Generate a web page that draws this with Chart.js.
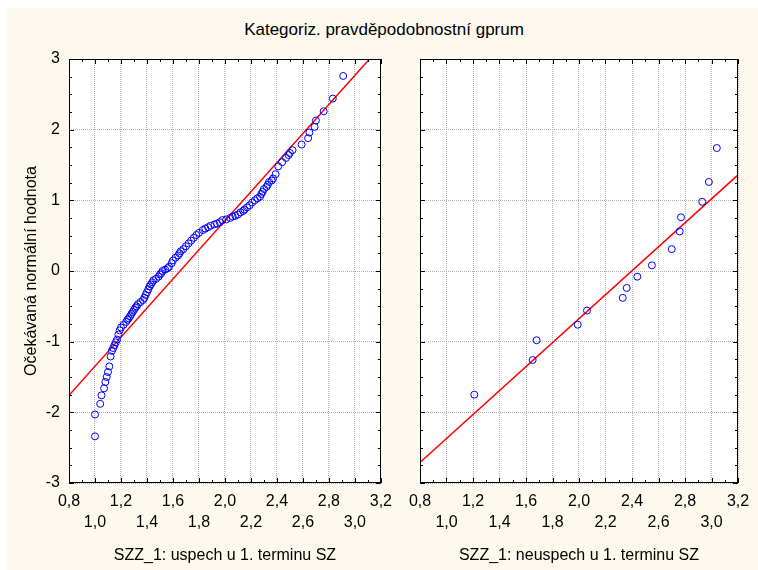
<!DOCTYPE html>
<html>
<head>
<meta charset="utf-8">
<script src="https://cdn.jsdelivr.net/npm/chart.js@4.4.0/dist/chart.umd.min.js"></script>
<style>
  body { margin:0; background:#fff; width:758px; height:570px; overflow:hidden; position:relative; font-family:'Liberation Sans', Arial, sans-serif; }
  #bg { position:absolute; left:6px; top:8px; right:0; bottom:0; background:#fdf9ee; }
  #title { position:absolute; left:10px; right:0; top:20px; text-align:center; font-size:17px; color:#000; }
  canvas { position:absolute; top:0; }
</style>
</head>
<body>
<div id="bg"></div>
<div id="title">Kategoriz. pravděpodobnostní gprum</div>
<canvas id="leftChart" width="400" height="570" style="left:0"></canvas>
<canvas id="rightChart" width="358" height="570" style="left:400px"></canvas>
<script>
// gprum, skupina "uspech"
var uspechX = [1.00, 1.00, 1.04, 1.05, 1.07, 1.08, 1.09, 1.10, 1.11, 1.12, 1.13, 1.14, 1.15, 1.16, 1.17, 1.18, 1.19, 1.20,
  1.22, 1.24, 1.25, 1.26, 1.27, 1.28, 1.29, 1.30, 1.31, 1.32, 1.33, 1.35, 1.37, 1.38, 1.39, 1.40, 1.41, 1.42, 1.43, 1.44,
  1.45, 1.47, 1.49, 1.50, 1.51, 1.52, 1.54, 1.56, 1.57, 1.59, 1.60, 1.62, 1.64, 1.65, 1.66, 1.68, 1.70, 1.72, 1.74, 1.76,
  1.78, 1.80, 1.83, 1.85, 1.87, 1.89, 1.92, 1.94, 1.96, 1.98, 2.01, 2.04, 2.06, 2.08, 2.10, 2.12, 2.14, 2.15, 2.17, 2.19,
  2.21, 2.23, 2.25, 2.27, 2.28, 2.29, 2.30, 2.32, 2.33, 2.34, 2.36, 2.37, 2.39, 2.41, 2.44, 2.47, 2.49, 2.50, 2.52, 2.59,
  2.64, 2.65, 2.69, 2.70, 2.76, 2.83, 2.91];
var uspechZ = [-2.34, -2.03, -1.88, -1.76, -1.66, -1.57, -1.50, -1.43, -1.35, -1.21, -1.13, -1.09, -1.05, -1.01, -0.97, -0.90, -0.84, -0.80,
  -0.76, -0.72, -0.69, -0.67, -0.64, -0.61, -0.58, -0.55, -0.52, -0.50, -0.47, -0.44, -0.41, -0.38, -0.34, -0.30, -0.26, -0.22, -0.19, -0.16,
  -0.13, -0.11, -0.08, -0.05, -0.03, 0.00, 0.02, 0.04, 0.06, 0.11, 0.15, 0.19, 0.22, 0.25, 0.28, 0.31, 0.35, 0.39, 0.43, 0.47,
  0.51, 0.54, 0.58, 0.60, 0.62, 0.64, 0.66, 0.67, 0.69, 0.72, 0.73, 0.75, 0.77, 0.78, 0.80, 0.83, 0.85, 0.87, 0.90, 0.93,
  0.97, 1.00, 1.03, 1.05, 1.09, 1.12, 1.16, 1.19, 1.22, 1.26, 1.28, 1.31, 1.37, 1.48, 1.54, 1.60, 1.64, 1.67, 1.71, 1.79,
  1.88, 1.96, 2.04, 2.13, 2.26, 2.44, 2.76];

// gprum, skupina "neuspech"
var neuspechX = [1.21, 1.65, 1.68, 1.99, 2.06, 2.33, 2.36, 2.44, 2.55, 2.70, 2.76, 2.77, 2.93, 2.98, 3.04];
var neuspechZ = [-1.75, -1.26, -0.98, -0.76, -0.56, -0.38, -0.24, -0.08, 0.08, 0.31, 0.56, 0.76, 0.98, 1.26, 1.74];

// proložené přímky
var uspechFitX = [0.8, 3.2];
var uspechFitZ = [-1.76, 3.18];
var neuspechFitX = [0.8, 3.2];
var neuspechFitZ = [-2.71, 1.36];

var xMin = 0.8, xMax = 3.2, xStep = 0.2;
var yMin = -3, yMax = 3, yStep = 1;

var FONT = "'Liberation Sans', Arial, sans-serif";

function toPoints(xs, ys) {
  return xs.map(function (x, i) { return {x: x, y: ys[i]}; });
}

// white plot area, black frame and inward tick marks
var framePlugin = {
  id: 'frame',
  beforeDraw: function (chart) {
    var a = chart.chartArea, ctx = chart.ctx;
    ctx.save();
    ctx.fillStyle = '#ffffff';
    ctx.fillRect(a.left, a.top, a.right - a.left, a.bottom - a.top);
    ctx.restore();
  },
  afterDraw: function (chart) {
    var a = chart.chartArea, ctx = chart.ctx;
    var xs = chart.scales.x, ys = chart.scales.y;
    ctx.save();
    ctx.strokeStyle = '#000';
    ctx.lineWidth = 1;
    ctx.strokeRect(Math.round(a.left) + 0.5, Math.round(a.top) + 0.5,
      Math.round(a.right - a.left) - 1, Math.round(a.bottom - a.top) - 1);
    ctx.beginPath();
    for (var i = 8; i <= 32; i++) {
      var px = Math.round(xs.getPixelForValue(i / 10)) + 0.5;
      var len = i % 2 === 0 ? 5 : 3;
      ctx.moveTo(px, a.bottom); ctx.lineTo(px, a.bottom - len);
      ctx.moveTo(px, a.top); ctx.lineTo(px, a.top + len);
    }
    for (var j = -12; j <= 12; j++) {
      var py = Math.round(ys.getPixelForValue(j / 4)) + 0.5;
      var l = j % 4 === 0 ? 5 : 3;
      ctx.moveTo(a.left, py); ctx.lineTo(a.left + l, py);
      ctx.moveTo(a.right, py); ctx.lineTo(a.right - l, py);
    }
    ctx.stroke();
    ctx.restore();
  }
};

function makeChart(id, pts, fit, opts) {
  var ctx = document.getElementById(id).getContext('2d');
  return new Chart(ctx, {
    type: 'scatter',
    data: {
      datasets: [{
        data: pts,
        pointStyle: 'circle',
        pointRadius: 3.5,
        borderWidth: 1,
        borderColor: '#0000ff',
        backgroundColor: 'rgba(0,0,0,0)'
      }, {
        data: fit,
        showLine: true,
        pointRadius: 0,
        borderColor: '#ff0000',
        borderWidth: 1.5,
        clip: 0
      }]
    },
    options: {
      responsive: false,
      animation: false,
      layout: {padding: {left: 0, top: 59, right: opts.padRight, bottom: 0}},
      plugins: {legend: {display: false}, tooltip: {enabled: false}},
      scales: {
        x: {
          type: 'linear',
          min: xMin, max: xMax,
          afterFit: function (s) { s.height = 87; },
          grid: {color: '#b0b0b0', drawTicks: false},
          border: {display: false, dash: [1, 1]},
          ticks: {
            stepSize: xStep,
            autoSkip: false,
            maxRotation: 0,
            padding: 8,
            color: '#000',
            font: {family: FONT, size: 16, lineHeight: 1.3},
            callback: function (v, i) {
              var s = v.toFixed(1).replace('.', ',');
              return i % 2 === 0 ? [s, ''] : ['', s];
            }
          },
          title: {
            display: true,
            text: opts.xTitle,
            color: '#000',
            font: {family: FONT, size: 16},
            padding: {top: 0, bottom: 5}
          }
        },
        y: {
          type: 'linear',
          min: yMin, max: yMax,
          afterFit: function (s) { s.width = opts.yWidth; },
          grid: {color: '#b0b0b0', drawTicks: false},
          border: {display: false, dash: [1, 1]},
          ticks: {
            display: opts.yLabels,
            stepSize: yStep,
            padding: 9,
            color: '#000',
            font: {family: FONT, size: 16},
            callback: function (v) { return String(v); }
          },
          title: {
            display: opts.yLabels,
            text: 'Očekávaná normální hodnota',
            color: '#000',
            font: {family: FONT, size: 16},
            padding: {top: 22, bottom: 0}
          }
        }
      }
    },
    plugins: [framePlugin]
  });
}

makeChart('leftChart', toPoints(uspechX, uspechZ), toPoints(uspechFitX, uspechFitZ),
  {padRight: 13, yWidth: 69, yLabels: true, xTitle: 'SZZ_1: uspech u 1. terminu SZ'});
makeChart('rightChart', toPoints(neuspechX, neuspechZ), toPoints(neuspechFitX, neuspechFitZ),
  {padRight: 20, yWidth: 20, yLabels: false, xTitle: 'SZZ_1: neuspech u 1. terminu SZ'});
</script>
</body>
</html>
